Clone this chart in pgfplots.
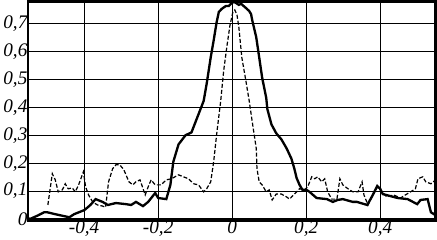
\documentclass[border=0pt]{standalone}
\usepackage{fontspec}
\setmainfont{Liberation Serif}
\usepackage{pgfplots}
\pgfplotsset{compat=1.18}
\begin{document}
\begin{tikzpicture}
\begin{axis}[
  width=404pt, height=217pt, scale only axis,
  xmin=-0.552, xmax=0.55, ymin=-0.005, ymax=0.78,
  axis line style={line width=2.5pt},
  grid=major, grid style={black, line width=1pt},
  major tick length=0pt,
  xtick={-0.4,-0.2,0,0.2,0.4},
  ytick={0,0.1,0.2,0.3,0.4,0.5,0.6,0.7},
  /pgf/number format/.cd, use comma, assume math mode=true, fixed, precision=1,
  /pgfplots/.cd,
  tick label style={font=\fontsize{19}{21}\selectfont\itshape},
  xticklabel style={yshift=3pt},
  yticklabel style={xshift=3pt},
  clip=true,
]
\addplot[black, line width=2.3pt] coordinates {
(-0.552,0.003) (-0.546,0.000) (-0.524,0.013) (-0.508,0.024) (-0.500,0.024)
(-0.478,0.017) (-0.454,0.010) (-0.440,0.006) (-0.427,0.017) (-0.399,0.032)
(-0.383,0.050) (-0.369,0.071) (-0.350,0.061) (-0.336,0.050) (-0.314,0.057)
(-0.287,0.053) (-0.273,0.050) (-0.260,0.061) (-0.241,0.046) (-0.227,0.061)
(-0.208,0.093) (-0.200,0.075) (-0.178,0.071) (-0.167,0.122) (-0.159,0.205)
(-0.145,0.267) (-0.126,0.300) (-0.110,0.310) (-0.091,0.375) (-0.077,0.423)
(-0.069,0.484) (-0.058,0.579) (-0.050,0.640) (-0.042,0.705) (-0.036,0.742)
(-0.028,0.753) (-0.017,0.763) (-0.009,0.763) (-0.001,0.774) (0.005,0.778)
(0.010,0.774) (0.018,0.767) (0.024,0.771) (0.037,0.756) (0.046,0.745)
(0.051,0.734) (0.054,0.713) (0.065,0.651) (0.073,0.579) (0.081,0.506)
(0.092,0.434) (0.095,0.394) (0.106,0.339) (0.119,0.307) (0.133,0.285)
(0.147,0.253) (0.160,0.216) (0.168,0.180) (0.174,0.147) (0.182,0.122)
(0.190,0.104) (0.201,0.104) (0.209,0.097) (0.228,0.075) (0.256,0.071)
(0.272,0.061) (0.285,0.068) (0.299,0.071) (0.326,0.061) (0.337,0.061)
(0.365,0.050) (0.380,0.086) (0.392,0.118) (0.400,0.108) (0.407,0.089)
(0.447,0.075) (0.474,0.071) (0.500,0.053) (0.509,0.068) (0.528,0.071)
(0.537,0.024) (0.545,0.017) (0.550,0.024)
};
\addplot[black, line width=1.2pt, dash pattern=on 4pt off 2pt] coordinates {
(-0.498,0.050) (-0.486,0.162) (-0.478,0.140) (-0.470,0.097) (-0.459,0.104)
(-0.451,0.126) (-0.443,0.108) (-0.432,0.111) (-0.424,0.097) (-0.415,0.122)
(-0.405,0.158) (-0.402,0.169) (-0.396,0.115) (-0.388,0.086) (-0.377,0.061)
(-0.364,0.050) (-0.350,0.046) (-0.342,0.042) (-0.334,0.133) (-0.323,0.180)
(-0.314,0.194) (-0.304,0.194) (-0.293,0.177) (-0.279,0.133) (-0.268,0.122)
(-0.260,0.133) (-0.249,0.140) (-0.235,0.086) (-0.227,0.115) (-0.219,0.140)
(-0.208,0.122) (-0.192,0.122) (-0.178,0.140) (-0.164,0.144) (-0.145,0.158)
(-0.132,0.151) (-0.118,0.144) (-0.104,0.126) (-0.091,0.122) (-0.077,0.097)
(-0.069,0.108) (-0.058,0.133) (-0.050,0.205) (-0.042,0.303) (-0.031,0.423)
(-0.023,0.531) (-0.014,0.621) (-0.006,0.694) (0.002,0.742) (0.007,0.749)
(0.013,0.731) (0.018,0.687) (0.026,0.579) (0.037,0.495) (0.046,0.423)
(0.054,0.350) (0.065,0.253) (0.067,0.180) (0.073,0.133) (0.081,0.122)
(0.092,0.097) (0.100,0.104) (0.108,0.068) (0.119,0.089) (0.133,0.089)
(0.147,0.079) (0.155,0.071) (0.168,0.089) (0.182,0.108) (0.196,0.104)
(0.204,0.115) (0.215,0.151) (0.223,0.144) (0.231,0.151) (0.242,0.133)
(0.250,0.144) (0.258,0.097) (0.269,0.071) (0.283,0.071) (0.291,0.144)
(0.299,0.122) (0.313,0.108) (0.326,0.097) (0.340,0.097) (0.351,0.133)
(0.356,0.086) (0.367,0.050) (0.378,0.079) (0.392,0.115) (0.400,0.104)
(0.418,0.079) (0.436,0.086) (0.455,0.075) (0.468,0.086) (0.482,0.097)
(0.495,0.108) (0.502,0.144) (0.515,0.151) (0.523,0.133) (0.537,0.126)
(0.550,0.140)
};
\end{axis}
\end{tikzpicture}
\end{document}
